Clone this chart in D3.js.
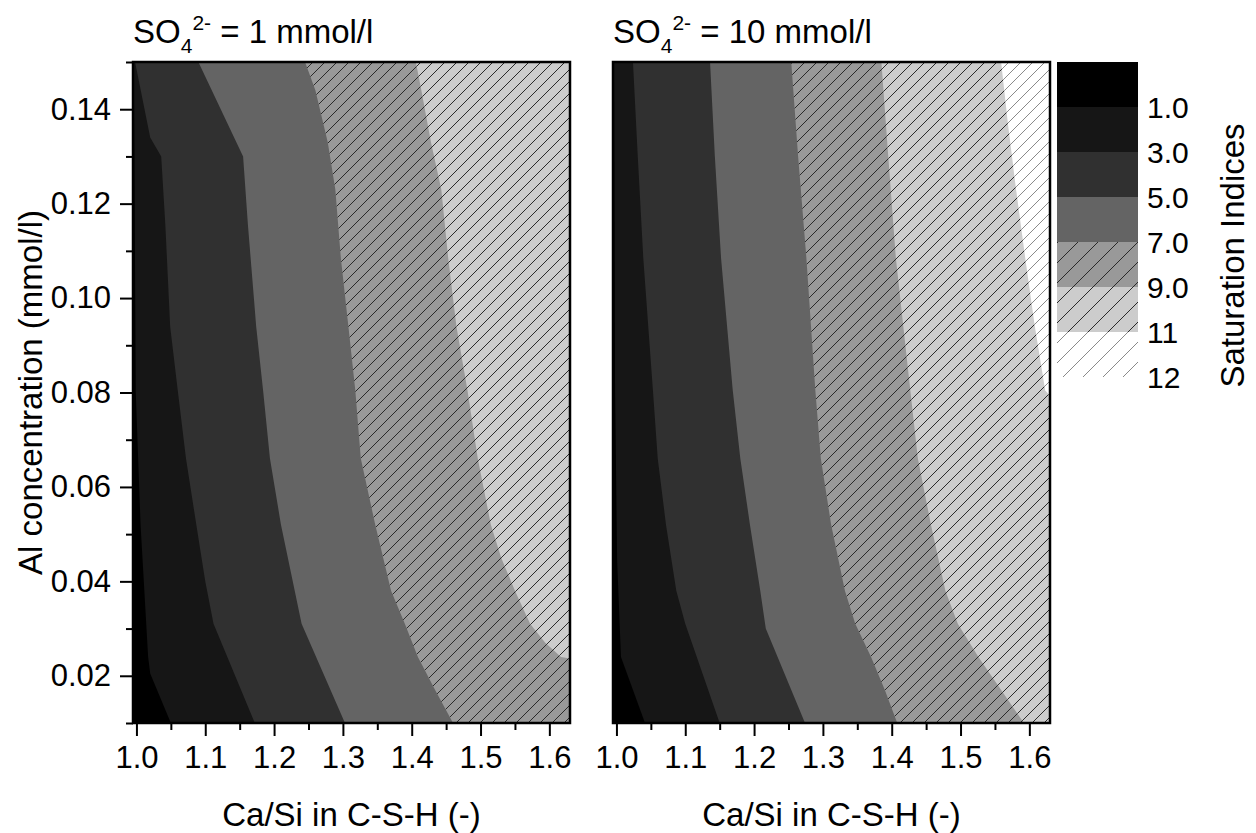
<!DOCTYPE html>
<html>
<head>
<meta charset="utf-8">
<script src="https://cdn.jsdelivr.net/npm/d3@7"></script>
<style>
  body { margin: 0; background: #fff; }
  text { font-family: "Liberation Sans", Arial, sans-serif; fill: #000; }
</style>
</head>
<body>
<div id="chart"></div>
<script>
// saturation index levels and band colours (lowest band first)
const levelLabels = ["1.0", "3.0", "5.0", "7.0", "9.0", "11", "12"];
const bandColors = ["#000000", "#161616", "#303030", "#646464", "#999999", "#cccccc", "#ffffff"];
const bandHatch = [null, null, null, null, "hatch", "hatch", "hatchLight"];

const xMajor = [1.0, 1.1, 1.2, 1.3, 1.4, 1.5, 1.6];
const xMinor = [1.05, 1.15, 1.25, 1.35, 1.45, 1.55];
const yMajor = [0.02, 0.04, 0.06, 0.08, 0.10, 0.12, 0.14];
const yMinor = [0.01, 0.03, 0.05, 0.07, 0.09, 0.11, 0.13, 0.15];

const panelConc = ["1", "10"];

// contour boundaries [Ca/Si, Al], SO4 = 1 mmol/l
const low_si1 = [[0.996, 0.15], [0.997, 0.13], [0.999, 0.08], [1.006, 0.052], [1.017, 0.024], [1.020, 0.0205], [1.050, 0.01]];
const low_si3 = [[0.998, 0.15], [1.020, 0.134], [1.036, 0.130], [1.042, 0.1155], [1.049, 0.094], [1.060, 0.0805], [1.072, 0.066], [1.087, 0.052], [1.100, 0.040], [1.112, 0.031], [1.172, 0.01]];
const low_si5 = [[1.090, 0.15], [1.155, 0.130], [1.162, 0.1155], [1.174, 0.094], [1.184, 0.0805], [1.194, 0.066], [1.210, 0.052], [1.230, 0.038], [1.240, 0.031], [1.303, 0.01]];
const low_si7 = [[1.245, 0.15], [1.260, 0.144], [1.278, 0.133], [1.289, 0.123], [1.297, 0.1085], [1.308, 0.094], [1.318, 0.0805], [1.326, 0.066], [1.347, 0.052], [1.370, 0.038], [1.390, 0.031], [1.409, 0.024], [1.434, 0.017], [1.460, 0.01]];
const low_si9 = [[1.406, 0.15], [1.414, 0.144], [1.428, 0.133], [1.443, 0.123], [1.453, 0.1085], [1.465, 0.094], [1.481, 0.0805], [1.496, 0.066], [1.515, 0.052], [1.530, 0.045], [1.550, 0.038], [1.572, 0.031], [1.594, 0.027], [1.617, 0.024], [1.640, 0.0234]];

// SO4 = 10 mmol/l
const high_si1 = [[0.9965, 0.15], [0.998, 0.0805], [1.001, 0.0445], [1.0066, 0.024], [1.0415, 0.01]];
const high_si3 = [[1.024, 0.15], [1.031, 0.130], [1.039, 0.1085], [1.053, 0.0805], [1.060, 0.066], [1.072, 0.052], [1.087, 0.038], [1.100, 0.031], [1.150, 0.01]];
const high_si5 = [[1.136, 0.15], [1.143, 0.130], [1.152, 0.1085], [1.169, 0.0805], [1.180, 0.066], [1.194, 0.052], [1.209, 0.038], [1.217, 0.030], [1.274, 0.01]];
const high_si7 = [[1.254, 0.15], [1.264, 0.130], [1.276, 0.1085], [1.289, 0.0805], [1.297, 0.066], [1.312, 0.052], [1.332, 0.038], [1.347, 0.031], [1.370, 0.024], [1.390, 0.017], [1.408, 0.01]];
const high_si9 = [[1.385, 0.15], [1.395, 0.130], [1.406, 0.1085], [1.427, 0.0805], [1.438, 0.066], [1.457, 0.052], [1.478, 0.038], [1.496, 0.031], [1.526, 0.024], [1.559, 0.017], [1.592, 0.01]];
const high_si11 = [[1.559, 0.15], [1.569, 0.1367], [1.581, 0.1227], [1.594, 0.1085], [1.608, 0.094], [1.623, 0.0805], [1.640, 0.0775]];

const panels = [
  { conc: panelConc[0], left: 133, bounds: [low_si1, low_si3, low_si5, low_si7, low_si9], yAxis: true },
  { conc: panelConc[1], left: 613, bounds: [high_si1, high_si3, high_si5, high_si7, high_si9, high_si11], yAxis: false }
];

const W = 1256, H = 833;
const plotW = 437, plotTop = 62, plotH = 661;
const fontSize = 31;
const titleSize = 33;
const legendSize = 30;

const svg = d3.select("#chart").append("svg")
  .attr("width", W)
  .attr("height", H);

// hatch patterns
const defs = svg.append("defs");
function addHatch(id, size, color) {
  defs.append("pattern")
    .attr("id", id)
    .attr("patternUnits", "userSpaceOnUse")
    .attr("width", size)
    .attr("height", size)
    .append("path")
    .attr("d", `M${-size/4},${size/4} l${size/2},${-size/2} M0,${size} l${size},${-size} M${size*0.75},${size*1.25} l${size/2},${-size/2}`)
    .attr("stroke", color)
    .attr("stroke-width", 1);
}
addHatch("hatch", 12, "#2a2a2a");
addHatch("hatchLight", 12, "#8a8a8a");
addHatch("hatchLeg", 20, "#2a2a2a");
addHatch("hatchLegLight", 20, "#8a8a8a");

const x = d3.scaleLinear().domain([0.995, 1.63]).range([0, plotW]);
const y = d3.scaleLinear().domain([0.01, 0.15]).range([plotH, 0]);
const line = d3.line().x(d => x(d[0])).y(d => y(d[1]));

panels.forEach((p, pi) => {
  const g = svg.append("g").attr("transform", `translate(${p.left},${plotTop})`);

  defs.append("clipPath").attr("id", "clip" + pi)
    .append("rect").attr("width", plotW).attr("height", plotH);

  const area = g.append("g").attr("clip-path", `url(#clip${pi})`);
  area.append("rect")
    .attr("width", plotW).attr("height", plotH)
    .attr("fill", bandColors[0]);

  p.bounds.forEach((b, i) => {
    const first = b[0], last = b[b.length - 1];
    const poly = b.concat([[1.7, last[1]], [1.7, 0.16], [first[0], 0.16]]);
    const band = i + 1;
    area.append("path")
      .attr("d", line(poly) + "Z")
      .attr("fill", bandColors[band]);
    if (bandHatch[band]) {
      area.append("path")
        .attr("d", line(poly) + "Z")
        .attr("fill", `url(#${bandHatch[band]})`);
    }
  });

  // axes
  g.append("g").attr("transform", `translate(0,${plotH})`)
    .call(d3.axisBottom(x).tickValues(xMajor).tickSize(13).tickPadding(10).tickFormat(d3.format(".1f")));
  g.append("g").attr("transform", `translate(0,${plotH})`)
    .call(d3.axisBottom(x).tickValues(xMinor).tickSize(7).tickFormat(""));

  if (p.yAxis) {
    g.append("g")
      .call(d3.axisLeft(y).tickValues(yMajor).tickSize(13).tickPadding(9).tickFormat(d3.format(".2f")));
    g.append("g")
      .call(d3.axisLeft(y).tickValues(yMinor).tickSize(7).tickFormat(""));
  }

  g.selectAll(".domain").remove();
  g.selectAll(".tick line").attr("stroke", "#000").attr("stroke-width", 2);
  g.selectAll(".tick text").attr("font-size", fontSize).attr("fill", "#000")
    .style("font-family", '"Liberation Sans", Arial, sans-serif');

  g.append("rect")
    .attr("width", plotW).attr("height", plotH)
    .attr("fill", "none").attr("stroke", "#000").attr("stroke-width", 2.5);

  // x axis title
  g.append("text")
    .attr("x", plotW / 2).attr("y", plotH + 103)
    .attr("text-anchor", "middle")
    .attr("font-size", titleSize)
    .text("Ca/Si in C-S-H (-)");

  // panel title
  const t = g.append("text")
    .attr("x", 0).attr("y", -19)
    .attr("font-size", titleSize);
  t.append("tspan").text("SO");
  t.append("tspan").attr("font-size", 21).attr("dy", 10).text("4");
  t.append("tspan").attr("font-size", 21).attr("dy", -23).text("2-");
  t.append("tspan").attr("dy", 13).text(" = " + p.conc + " mmol/l");
});

// y axis title
svg.append("text")
  .attr("transform", `translate(42,${plotTop + plotH / 2}) rotate(-90)`)
  .attr("text-anchor", "middle")
  .attr("font-size", titleSize)
  .text("Al concentration (mmol/l)");

// legend
const legX = 1057, legW = 81;
const ly = d3.scaleLinear().domain([0, 7]).range([62, 377]);
const leg = svg.append("g");
bandColors.forEach((c, i) => {
  leg.append("rect")
    .attr("x", legX).attr("y", ly(i))
    .attr("width", legW).attr("height", ly(i + 1) - ly(i))
    .attr("fill", c);
  if (bandHatch[i]) {
    leg.append("rect")
      .attr("x", legX).attr("y", ly(i))
      .attr("width", legW).attr("height", ly(i + 1) - ly(i))
      .attr("fill", bandHatch[i] === "hatchLight" ? "url(#hatchLegLight)" : "url(#hatchLeg)");
  }
});
levelLabels.forEach((l, i) => {
  leg.append("text")
    .attr("x", legX + legW + 9)
    .attr("y", ly(i + 1))
    .attr("dy", "0.36em")
    .attr("font-size", legendSize)
    .text(l);
});
svg.append("text")
  .attr("transform", `translate(1244,${(62 + 377) / 2 + 36}) rotate(-90)`)
  .attr("text-anchor", "middle")
  .attr("font-size", titleSize)
  .text("Saturation Indices");
</script>
</body>
</html>
